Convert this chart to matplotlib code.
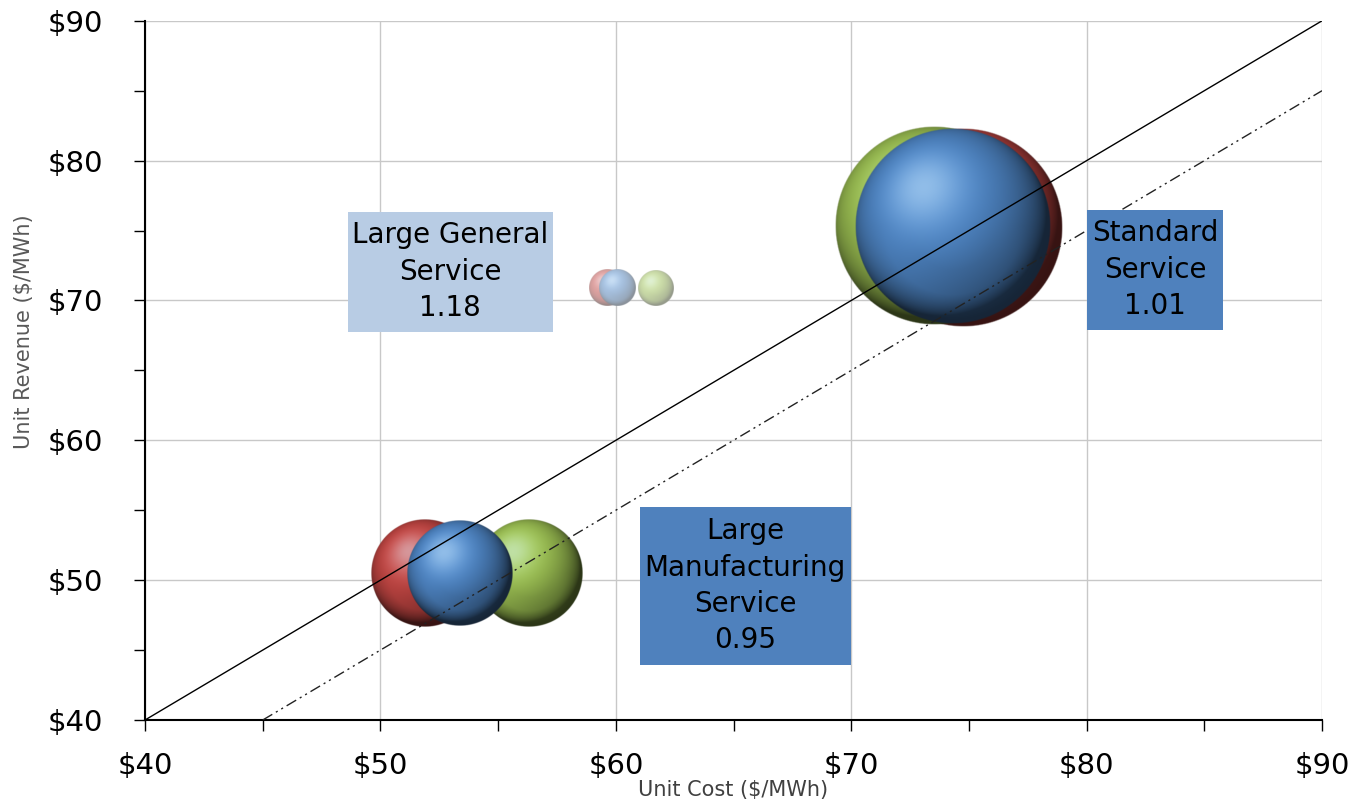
import numpy as np
import matplotlib
matplotlib.use("Agg")
import matplotlib.pyplot as plt
from matplotlib.patches import Rectangle

# Rate classes (bubble groups)
classes = ['Large General Service', 'Large Manufacturing Service', 'Standard Service']
ratios = [1.18, 0.95, 1.01]

# Three bubble series per class: unit cost, unit revenue, bubble size
red_cost = [59.65, 51.9, 74.75]
red_rev = [70.9, 50.5, 75.2]
red_size = [0.33, 2.9, 9.8]

green_cost = [61.67, 56.3, 73.5]
green_rev = [70.9, 50.5, 75.3]
green_size = [0.31, 2.9, 9.8]

blue_cost = [60.07, 53.36, 74.32]
blue_rev = [70.9, 50.5, 75.3]
blue_size = [0.33, 2.8, 9.6]

x_ticks = [40, 50, 60, 70, 80, 90]
y_ticks = [40, 50, 60, 70, 80, 90]


def sphere(rgb, n=300, pale=0.0):
    y, x = np.mgrid[-1:1:n * 1j, -1:1:n * 1j]
    r2 = x ** 2 + y ** 2
    z = np.sqrt(np.clip(1 - r2, 0, 1))
    L = np.array([-0.3, -0.4, 0.87])
    L = L / np.linalg.norm(L)
    nd = np.clip(x * L[0] + y * L[1] + z * L[2], 0, 1)
    base = np.array(matplotlib.colors.to_rgb(rgb))
    shade = 0.3 + 0.85 * nd ** 0.9
    col = base[None, None, :] * shade[..., None]
    # broad soft highlight toward white
    hl = np.clip(nd, 0, 1) ** 14 * 0.45
    col = col * (1 - hl[..., None]) + hl[..., None] * np.array([0.85, 0.95, 1.0])
    # faint reflected light at the lower part
    rim = np.clip(y, 0, 1) * np.clip(1 - np.abs(np.sqrt(r2) - 0.7) * 4, 0, 1) * 0.15
    col = col + rim[..., None] * base
    col = np.clip(col, 0, 1)
    col = col * (1 - pale) + pale
    a = np.clip((1 - np.sqrt(r2)) * n / 2.5, 0, 1)
    return np.dstack([col, a])


fig = plt.figure(figsize=(13.53, 8.09), dpi=100)
ax = fig.add_axes([0.1072, 0.110, 0.8699, 0.8643])
ax.set_xlim(40, 90)
ax.set_ylim(40, 90)

# pixels per data unit, so bubbles stay round
pos = ax.get_position()
px_x = fig.get_figwidth() * fig.dpi * pos.width / 50
px_y = fig.get_figheight() * fig.dpi * pos.height / 50
scale = 99 / np.sqrt(9.8)

colors = {'red': '#b8423f', 'green': '#94b64e', 'blue': '#4a7eba'}
series = [('red', red_cost, red_rev, red_size),
          ('green', green_cost, green_rev, green_size),
          ('blue', blue_cost, blue_rev, blue_size)]

for name, cost, rev, size in series:
    for i in range(len(classes)):
        r = scale * np.sqrt(size[i])
        rx, ry = r / px_x, r / px_y
        pale = 0.5 if i == 0 else 0.0
        img = sphere(colors[name], pale=pale)
        ax.imshow(img, extent=[cost[i] - rx, cost[i] + rx, rev[i] - ry, rev[i] + ry],
                  aspect='auto', interpolation='bilinear', zorder=2)

ax.set_xlim(40, 90)
ax.set_ylim(40, 90)

# break-even line and 5 $/MWh below it
xs = np.array([40, 90])
ax.plot(xs, xs, color='black', lw=1, zorder=3)
ax.plot([45, 90], [40, 85], color='#222222', lw=1, dashes=(8, 3, 1.5, 3, 1.5, 3), zorder=3)

# label boxes
boxes = [
    (52.96, 72.05, 8.7, 8.55, '#b8cce4', 'Large General\nService\n1.18'),
    (65.5, 49.6, 8.95, 11.3, '#4f81bd', 'Large\nManufacturing\nService\n0.95'),
    (82.9, 72.2, 5.75, 8.6, '#4f81bd', 'Standard\nService\n1.01'),
]
for cx, cy, w, h, fc, txt in boxes:
    ax.add_patch(Rectangle((cx - w / 2, cy - h / 2), w, h, facecolor=fc, edgecolor='none', zorder=4))
    ax.text(cx, cy, txt, ha='center', va='center', fontsize=20, linespacing=1.38,
            color='black', zorder=5)

ax.set_xticks(x_ticks)
ax.set_yticks(y_ticks)
ax.set_xticklabels(['$%d' % v for v in x_ticks])
ax.set_yticklabels(['$%d' % v for v in y_ticks])
ax.set_xticks(np.arange(45, 90, 10), minor=True)
ax.set_yticks(np.arange(45, 90, 10), minor=True)
ax.tick_params(which='both', direction='out', length=8, width=1, labelsize=21)
ax.tick_params(axis='x', which='major', pad=15)
ax.tick_params(axis='y', which='major', pad=22)

ax.grid(True, which='major', color='#c8c8c8', lw=1, zorder=0)
ax.set_axisbelow(True)
for s in ['top', 'right']:
    ax.spines[s].set_visible(False)
for s in ['left', 'bottom']:
    ax.spines[s].set_linewidth(1.5)

ax.set_xlabel('Unit Cost ($/MWh)', fontsize=15, color='#404040', labelpad=0)
ax.set_ylabel('Unit Revenue ($/MWh)', fontsize=15, color='#595959')
ax.yaxis.set_label_coords(-0.094, 0.556)

fig.savefig('out.png', dpi=100)
